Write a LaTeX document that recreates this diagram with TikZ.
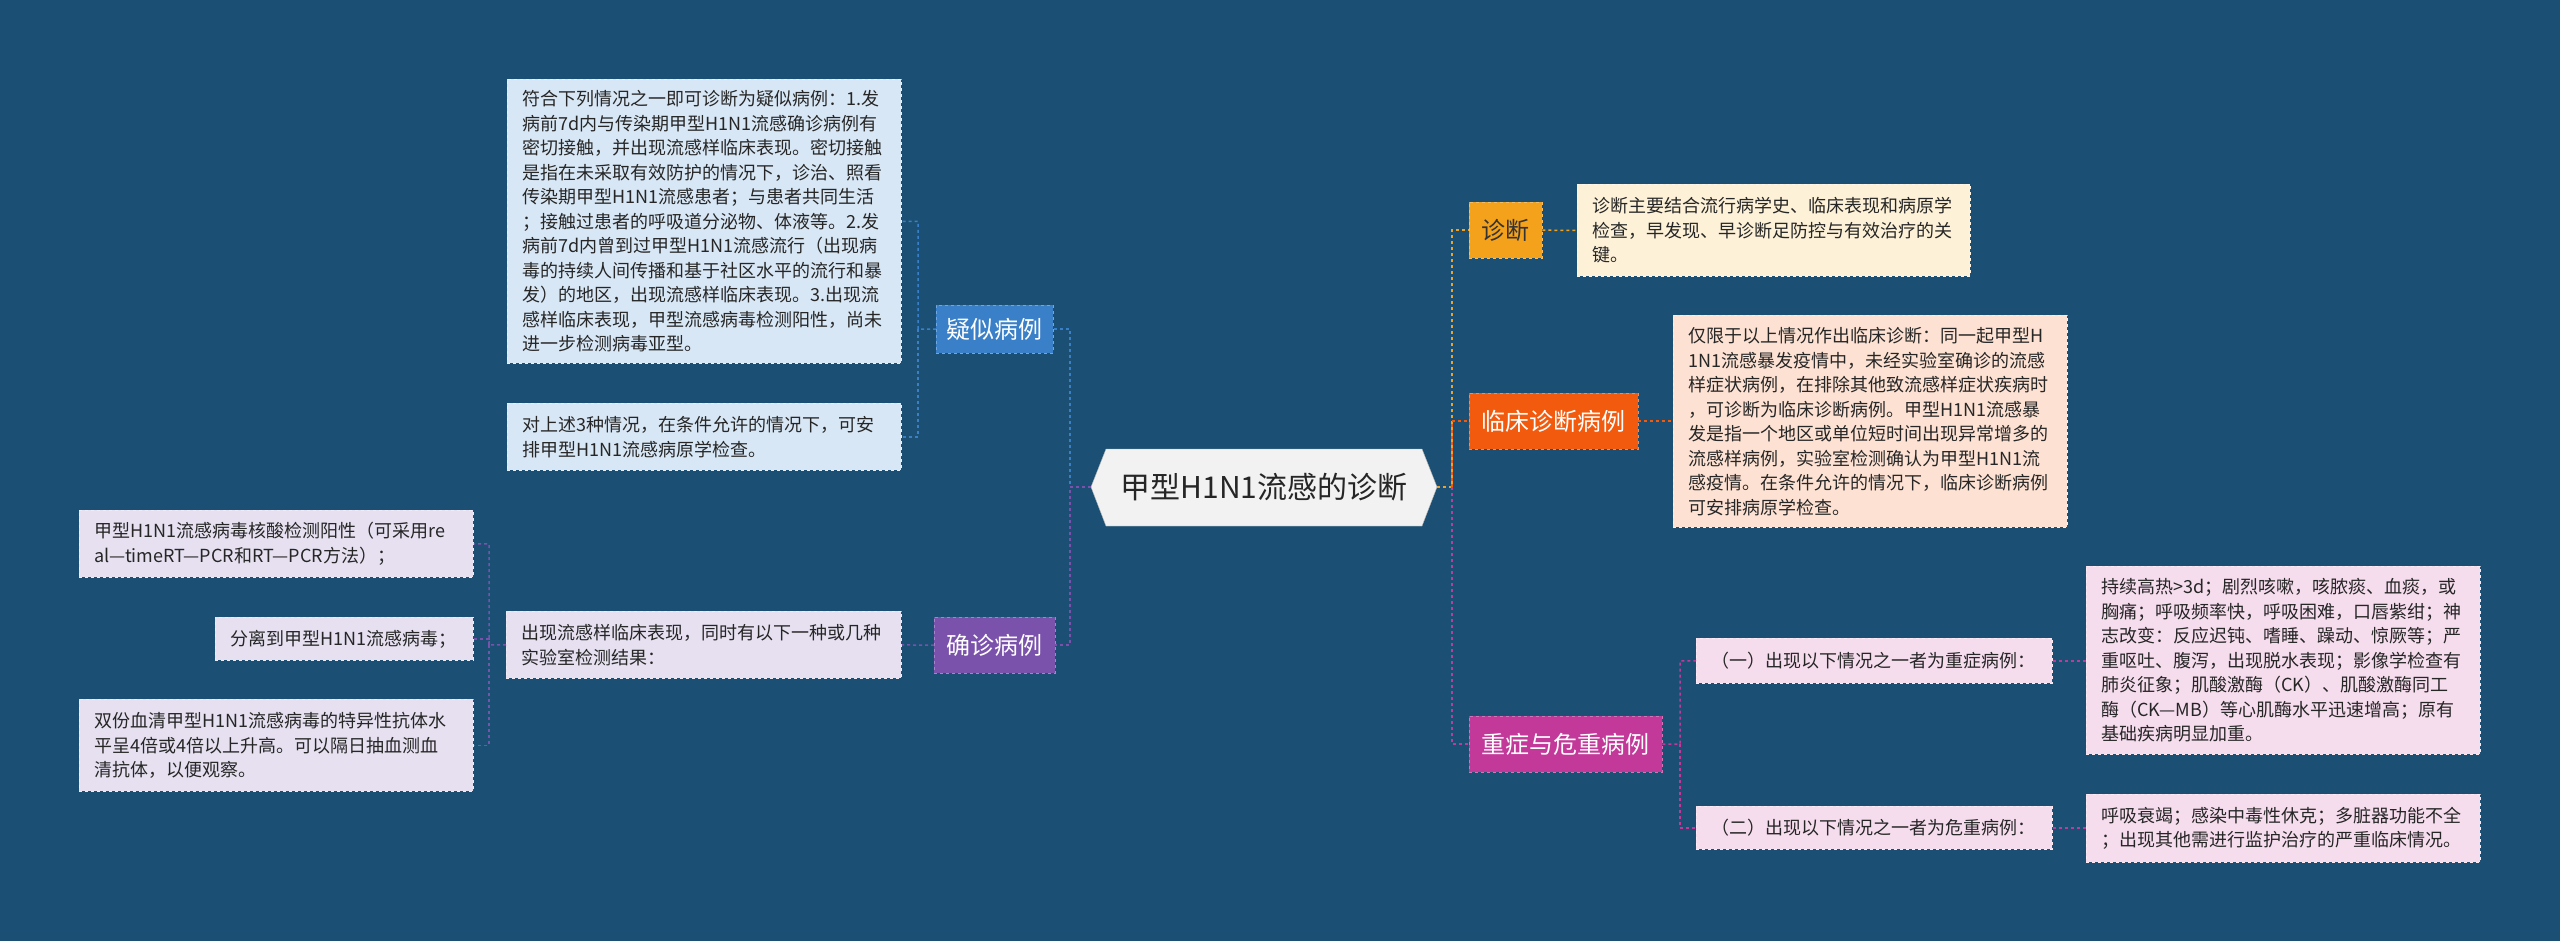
\documentclass[tikz,border=0pt]{standalone}
\usepackage{fontspec}
\setmainfont{Noto Sans CJK SC}
\usetikzlibrary{positioning}
\definecolor{bg}{HTML}{1B5074}
\definecolor{cblue}{HTML}{3A80C8}
\definecolor{cpurp}{HTML}{7B52AB}
\definecolor{corg}{HTML}{F4A11C}
\definecolor{cred}{HTML}{F25A0E}
\definecolor{cmag}{HTML}{C2399A}
\definecolor{lblue}{HTML}{D8E7F5}
\definecolor{lpurp}{HTML}{E6E0F0}
\definecolor{lcream}{HTML}{FDF1D8}
\definecolor{lpeach}{HTML}{FDE2D3}
\definecolor{lmag}{HTML}{F6DDEE}
\tikzset{
 leaf/.style={draw=#1!60!white, dashed, line width=0.8pt, anchor=north west, align=left, inner sep=0pt, font=\fontsize{18}{24.5}\selectfont, text=black!85},
 br/.style={fill=#1, draw=#1!70!white, dashed, anchor=north west, inner sep=0pt, text=white, font=\fontsize{24}{28}\selectfont},
 con/.style={draw=#1, dashed, line width=1.5pt}
}
\newcommand{\leafbox}[7]{% name, fill, x, y, w, h, text
 \node[leaf=#2, fill=#2, minimum width=#5, minimum height=#6, text width=#5-30] (#1) at (#3,#4) {};
 \node[anchor=west, align=left, text width=#5-30, font=\fontsize{18}{24.5}\selectfont, text=black!85, inner sep=0pt] at ($(#1.west)+(15,0)$) {#7};}
\usetikzlibrary{calc}
\begin{document}
\begin{tikzpicture}[x=1pt,y=-1pt]
\fill[bg] (0,0) rectangle (2560,941);
\useasboundingbox (0,0) rectangle (2560,941);
% central
\fill[white!95!black, draw=white!70!black] (1091,487) -- (1106,449) -- (1422,449) -- (1437,487) -- (1422,526) -- (1106,526) -- cycle;
\node[font=\fontsize{30}{34}\selectfont, text=black!85] (c) at (1264,487) {甲型H1N1流感的诊断};
\coordinate (cw) at (1091,487); \coordinate (ce) at (1437,487);
% branches
\node[br=cblue, minimum width=117, minimum height=48] (ys) at (936,305) {疑似病例};
\node[br=cpurp, minimum width=121, minimum height=56] (qz) at (934,617) {确诊病例};
\node[br=corg, minimum width=73, minimum height=56, text=black!80] (zd) at (1469,202) {诊断};
\node[br=cred, minimum width=169, minimum height=56] (lc) at (1469,393) {临床诊断病例};
\node[br=cmag, minimum width=193, minimum height=56] (zz) at (1469,716) {重症与危重病例};
% leaves
\leafbox{y1}{lblue}{507}{79}{394}{284}{符合下列情况之一即可诊断为疑似病例：1.发\\病前7d内与传染期甲型H1N1流感确诊病例有\\密切接触，并出现流感样临床表现。密切接触\\是指在未采取有效防护的情况下，诊治、照看\\传染期甲型H1N1流感患者；与患者共同生活\\；接触过患者的呼吸道分泌物、体液等。2.发\\病前7d内曾到过甲型H1N1流感流行（出现病\\毒的持续人间传播和基于社区水平的流行和暴\\发）的地区，出现流感样临床表现。3.出现流\\感样临床表现，甲型流感病毒检测阳性，尚未\\进一步检测病毒亚型。}
\leafbox{y2}{lblue}{507}{403}{394}{67}{对上述3种情况，在条件允许的情况下，可安\\排甲型H1N1流感病原学检查。}
\leafbox{q0}{lpurp}{506}{611}{395}{67}{出现流感样临床表现，同时有以下一种或几种\\实验室检测结果：}
\leafbox{q1}{lpurp}{79}{510}{394}{67}{甲型H1N1流感病毒核酸检测阳性（可采用re\\al—timeRT—PCR和RT—PCR方法）；}
\leafbox{q2}{lpurp}{215}{617}{258}{43}{分离到甲型H1N1流感病毒；}
\leafbox{q3}{lpurp}{79}{699}{394}{92}{双份血清甲型H1N1流感病毒的特异性抗体水\\平呈4倍或4倍以上升高。可以隔日抽血测血\\清抗体，以便观察。}
\leafbox{d1}{lcream}{1577}{184}{393}{92}{诊断主要结合流行病学史、临床表现和病原学\\检查，早发现、早诊断足防控与有效治疗的关\\键。}
\leafbox{l1}{lpeach}{1673}{315}{394}{212}{仅限于以上情况作出临床诊断：同一起甲型H\\1N1流感暴发疫情中，未经实验室确诊的流感\\样症状病例，在排除其他致流感样症状疾病时\\，可诊断为临床诊断病例。甲型H1N1流感暴\\发是指一个地区或单位短时间出现异常增多的\\流感样病例，实验室检测确认为甲型H1N1流\\感疫情。在条件允许的情况下，临床诊断病例\\可安排病原学检查。}
\leafbox{s1}{lmag}{1696}{638}{356}{45}{（一）出现以下情况之一者为重症病例：}
\leafbox{s2}{lmag}{1696}{806}{356}{43}{（二）出现以下情况之一者为危重病例：}
\leafbox{sa}{lmag}{2086}{566}{394}{188}{持续高热>3d；剧烈咳嗽，咳脓痰、血痰，或\\胸痛；呼吸频率快，呼吸困难，口唇紫绀；神\\志改变：反应迟钝、嗜睡、躁动、惊厥等；严\\重呕吐、腹泻，出现脱水表现；影像学检查有\\肺炎征象；肌酸激酶（CK）、肌酸激酶同工\\酶（CK—MB）等心肌酶水平迅速增高；原有\\基础疾病明显加重。}
\leafbox{sb}{lmag}{2086}{794}{394}{68}{呼吸衰竭；感染中毒性休克；多脏器功能不全\\；出现其他需进行监护治疗的严重临床情况。}
% connectors
\draw[con=cblue] (cw) -- (1070,487) |- (ys.east);
\draw[con=cpurp] (cw) -- (1070,487) |- (qz.east);
\draw[con=cblue] (ys.west) -- (918,329) |- (y1.east);
\draw[con=cblue] (918,329) |- (y2.east);
\draw[con=cpurp] (qz.west) -- (q0.east);
\draw[con=cpurp] (q0.west) -- (489,645) |- (q1.east);
\draw[con=cpurp] (489,645) |- (q2.east);
\draw[con=cpurp] (489,645) |- (q3.east);
\draw[con=corg] (ce) -- (1452,487) |- (zd.west);
\draw[con=cred] (1452,487) |- (lc.west);
\draw[con=cmag] (1452,487) |- (zz.west);
\draw[con=corg] (zd.east) -- (d1.west);
\draw[con=cred] (lc.east) -- (lc.east -| l1.west);
\draw[con=cmag] (zz.east) -- (1680,744) |- (s1.west);
\draw[con=cmag] (1680,744) |- (s2.west);
\draw[con=cmag] (s1.east) -- (s1.east -| sa.west);
\draw[con=cmag] (s2.east) -- (s2.east -| sb.west);
\end{tikzpicture}
\end{document}
